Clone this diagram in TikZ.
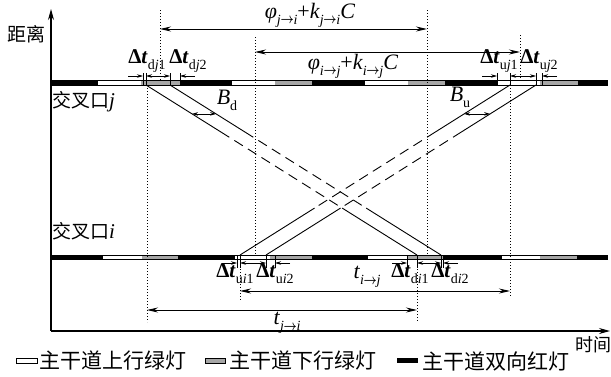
\documentclass[tikz,border=0pt]{standalone}
\usepackage{fontspec}
\usepackage{graphicx}
\setmainfont{Liberation Serif}
\newfontfamily\cjk{Noto Sans CJK SC}
\usetikzlibrary{arrows.meta,calc}
\newcommand\sbs[1]{\raisebox{-0.28em}{\fontsize{14}{14}\selectfont #1}}
\newcommand\Dt[3]{\textbf{Δ\textit{t}}\sbs{#1\textit{#2}#3}}
\newcommand\ar[2]{\textit{#1}\kern-0.3pt\raisebox{0.02em}{\scalebox{0.8}[1]{$\boldsymbol{\rightarrow}$}}\kern-0.3pt\textit{#2}}
\newcommand\lat[1]{{\normalfont\fontsize{21}{21}\selectfont\itshape #1}}
\usepackage{amsmath}
\tikzset{
 dimarr/.style={line width=0.9pt,{Stealth[length=11pt,width=5pt]}-{Stealth[length=11pt,width=5pt]}},
 tickarr/.style={line width=0.7pt,-{Stealth[length=6pt,width=3.5pt]}},
 tickdbl/.style={line width=0.7pt,{Stealth[length=6pt,width=3.5pt]}-{Stealth[length=6pt,width=3.5pt]}},
 dotline/.style={line width=0.8pt,dash pattern=on 0.8pt off 2.2pt},
 tline/.style={line width=0.7pt},
 trav/.style={line width=0.9pt},
 travdash/.style={line width=0.9pt,dash pattern=on 10pt off 6pt},
 lbl/.style={font=\fontsize{21}{21}\selectfont,inner sep=0pt},
 biglbl/.style={font=\fontsize{22}{22}\selectfont,inner sep=0pt},
 cjklbl/.style={font=\cjk\fontsize{19}{19}\selectfont,inner sep=0pt},
 leglbl/.style={font=\cjk\fontsize{21}{21}\selectfont,inner sep=0pt,anchor=west},
 axis/.style={line width=1.2pt,-{Stealth[length=11pt,width=6pt]}},
 barline/.style={line width=0.6pt},
}
\colorlet{gbar}{black!35}
\begin{document}
\begin{tikzpicture}[x=1pt,y=-1pt]
\useasboundingbox (0,0) rectangle (611,376);
% bars
\foreach \a/\b/\c in {51/98/black,98/141/white,141/180/gbar,180/232/black,232/275/white,275/312/gbar,312/365/black,365/408/white,408/445/gbar,445/497/black,497/540/white,540/578/gbar,578/608/black}
  \fill[\c] (\a,80.5) rectangle (\b,85);
\draw[barline] (51,80.5) -- (608,80.5) (51,85) -- (608,85);
\foreach \a/\b/\c in {51/103/black,103/142/white,142/178/gbar,178/235/black,235/270/white,270/312/gbar,312/368/black,368/408/white,408/443/gbar,443/502/black,502/540/white,540/577/gbar,577/608/black}
  \fill[\c] (\a,255) rectangle (\b,259.5);
\draw[barline] (51,255) -- (608,255) (51,259.5) -- (608,259.5);
% axes
\coordinate (O) at (51,331);
\coordinate (ytip) at (51,9);
\coordinate (xtip) at (610,331);
\draw[axis] (O) -- (ytip);
\draw[axis] (O) -- (xtip);
\node[cjklbl] (dist) at (27,34) {距离};
\node[cjklbl,font=\cjk\fontsize{18}{18}\selectfont] (time) at (593,345) {时间};
\node[cjklbl,anchor=west] (Jj) at (52,102) {交叉口\lat{j}};
\node[cjklbl,anchor=west] (Ji) at (52,231) {交叉口\lat{i}};
% dotted lines
\draw[dotline] (160,10) -- (160,80.5);
\draw[dotline] (147,85) -- (147,322);
\draw[dotline] (255,37) -- (255,255);
\draw[dotline] (427,10) -- (427,255);
\draw[dotline] (520,35) -- (520,80.5);
\draw[dotline] (510,85) -- (510,296);
\draw[dotline] (240,260) -- (240,300);
\draw[dotline] (417,260) -- (417,322);
% travel lines
\coordinate (d1a) at (146,85); \coordinate (d1b) at (417,255);
\coordinate (d2a) at (170,85); \coordinate (d2b) at (441,255);
\coordinate (u1a) at (240,255); \coordinate (u1b) at (510,85);
\coordinate (u2a) at (266,255); \coordinate (u2b) at (536,85);
\foreach \l in {d1,d2} {
  \coordinate (\l p) at ($(\l a)!0.276!(\l b)$);
  \coordinate (\l q) at ($(\l a)!0.724!(\l b)$);
  \draw[trav] (\l a) -- (\l p);
  \draw[travdash] (\l p) -- (\l q);
  \draw[trav] (\l q) -- (\l b);
}
\foreach \l in {u1,u2} {
  \coordinate (\l p) at ($(\l a)!0.724!(\l b)$);
  \coordinate (\l q) at ($(\l a)!0.276!(\l b)$);
  \draw[trav] (\l b) -- (\l p);
  \draw[travdash] (\l p) -- (\l q);
  \draw[trav] (\l q) -- (\l a);
}
% band widths
\coordinate (bd1) at ($(d1a)!0.17!(d1b)$);
\coordinate (bd2) at ($(d2a)!0.17!(d2b)$);
\draw[tickdbl] (bd1) -- (bd2);
\node[biglbl] (Bd) at (227,100) {\textit{B}\sbs{d}};
\coordinate (bu1) at ($(u1b)!0.17!(u1a)$);
\coordinate (bu2) at ($(u2b)!0.17!(u2a)$);
\draw[tickdbl] (bu1) -- (bu2);
\node[biglbl] (Bu) at (460,97) {\textit{B}\sbs{u}};
% top ticks
\foreach \x in {143,146,170,180,497,510,536,542} \draw[tline] (\x,73) -- (\x,85);
\draw[tickarr] (128,76) -- (143,76);
\draw[tickdbl] (146,76) -- (170,76);
\draw[tickarr] (195,76) -- (180,76);
\draw[tickarr] (482,76) -- (497,76);
\draw[tickdbl] (510,76) -- (536,76);
\draw[tickarr] (557,76) -- (542,76);
\node[lbl] (dj1) at (147,61) {\Dt{d}{j}{1}};
\node[lbl] (dj2) at (188,61) {\Dt{d}{j}{2}};
\node[lbl] (uj1) at (499,61) {\Dt{u}{j}{1}};
\node[lbl] (uj2) at (539,61) {\Dt{u}{j}{2}};
% bottom ticks
\foreach \x in {237,240,266,275,407,417,441,443} \draw[tline] (\x,255) -- (\x,268);
\draw[tickarr] (222,263) -- (237,263);
\draw[tickdbl] (240,263) -- (266,263);
\draw[tickarr] (290,263) -- (275,263);
\draw[tickarr] (392,263) -- (407,263);
\draw[tickdbl] (417,263) -- (441,263);
\draw[tickarr] (458,263) -- (443,263);
\node[lbl] (ui1) at (235,274) {\Dt{u}{i}{1}};
\node[lbl] (ui2) at (275,274) {\Dt{u}{i}{2}};
\node[lbl] (di1) at (410,274) {\Dt{d}{i}{1}};
\node[lbl] (di2) at (450,274) {\Dt{d}{i}{2}};
% offsets and travel times
\draw[dimarr] (160,29) -- (427,29);
\node[biglbl] (phji) at (310,15) {\textit{φ}\sbs{\ar{j}{i}}+\textit{k}\sbs{\ar{j}{i}}\textit{C}};
\draw[dimarr] (255,52) -- (520,52);
\node[biglbl] (phij) at (353,66) {\textit{φ}\sbs{\ar{i}{j}}+\textit{k}\sbs{\ar{i}{j}}\textit{C}};
\draw[dimarr] (240,291) -- (510,291);
\node[biglbl] (tij) at (367,277) {\textit{t}\sbs{\ar{i}{j}}};
\draw[dimarr] (147,310) -- (417,310);
\node[biglbl] (tji) at (287,323) {\textit{t}\sbs{\ar{j}{i}}};
% legend
\draw[barline,fill=white] (16,358) rectangle (37,363);
\node[leglbl] (lg1) at (39,361) {主干道上行绿灯};
\draw[barline,fill=gbar] (205,358) rectangle (225,363);
\node[leglbl] (lg2) at (229,361) {主干道下行绿灯};
\fill[black] (397,358) rectangle (418,363);
\node[leglbl] (lg3) at (422,361) {主干道双向红灯};
\end{tikzpicture}
\end{document}
